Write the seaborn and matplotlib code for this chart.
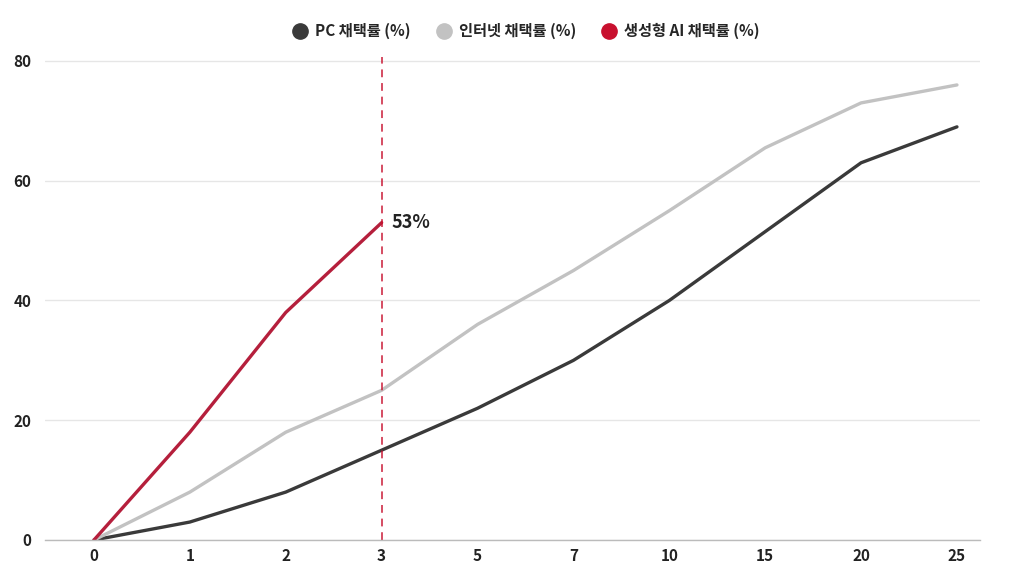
import pandas as pd
import matplotlib.pyplot as plt
import seaborn as sns
from matplotlib.lines import Line2D

# --- data (years since launch, adoption %) ---
YEARS = ['0', '1', '2', '3', '5', '7', '10', '15', '20', '25']
PC_RATE = [0, 3, 8, 15, 22, 30, 40, 51.5, 63, 69]
INTERNET_RATE = [0, 8, 18, 25, 36, 45, 55, 65.5, 73, 76]
GENAI_RATE = [0, 18, 38, 53]

SERIES = ['PC 채택률 (%)', '인터넷 채택률 (%)', '생성형 AI 채택률 (%)']
COLORS = ['#3a3a3a', '#c2c2c2', '#b51f3c']
LEGEND_COLORS = ['#3a3a3a', '#c2c2c2', '#c8102e']

sns.set_theme(style="white")
plt.rcParams['font.family'] = ['Noto Sans CJK KR', 'DejaVu Sans']

rows = []
for name, vals in zip(SERIES, [PC_RATE, INTERNET_RATE, GENAI_RATE]):
    for i, v in enumerate(vals):
        rows.append({'year_idx': i, 'rate': v, 'series': name})
df = pd.DataFrame(rows)

fig = plt.figure(figsize=(10.24, 5.76), dpi=100)
ax = fig.add_axes([0.044, 0.0625, 0.913, 0.842])

sns.lineplot(data=df, x='year_idx', y='rate', hue='series', hue_order=SERIES,
             palette=dict(zip(SERIES, COLORS)), linewidth=2.4, legend=False, ax=ax,
             solid_capstyle='round', solid_joinstyle='round')

# dashed marker at 3 years
ax.axvline(3, ymin=0, ymax=0.995, color='#c8102e', linestyle=(0, (4, 3)), linewidth=1.4, alpha=0.75)
ax.text(3.1, GENAI_RATE[-1], f'{GENAI_RATE[-1]:.0f}%', fontsize=13, fontweight='bold',
        color='#222222', va='center', ha='left')

ax.set_xlim(-0.51, 9.24)
ax.set_ylim(0, 81)
ax.set_xticks(range(len(YEARS)))
ax.set_xticklabels(YEARS)
ax.set_yticks([0, 20, 40, 60, 80])
ax.set_xlabel('')
ax.set_ylabel('')
for lab in ax.get_xticklabels() + ax.get_yticklabels():
    lab.set_fontweight('bold')
    lab.set_fontsize(11)
    lab.set_color('#222222')
ax.tick_params(axis='y', length=0, pad=10)
ax.tick_params(axis='x', length=0, pad=6)

ax.grid(axis='y', color='#e6e6e6', linewidth=1)
ax.set_axisbelow(True)
for s in ['top', 'right', 'left']:
    ax.spines[s].set_visible(False)
ax.spines['bottom'].set_color('#bbbbbb')
ax.spines['bottom'].set_linewidth(1)

handles = [Line2D([], [], marker='o', linestyle='', markersize=11, color=c) for c in LEGEND_COLORS]
fig.legend(handles, SERIES, loc='center', bbox_to_anchor=(0.51, 0.946), ncol=3, frameon=False,
           prop={'weight': 'bold', 'size': 11}, handletextpad=0.0, columnspacing=1.15)

plt.savefig('out.png', dpi=100)
